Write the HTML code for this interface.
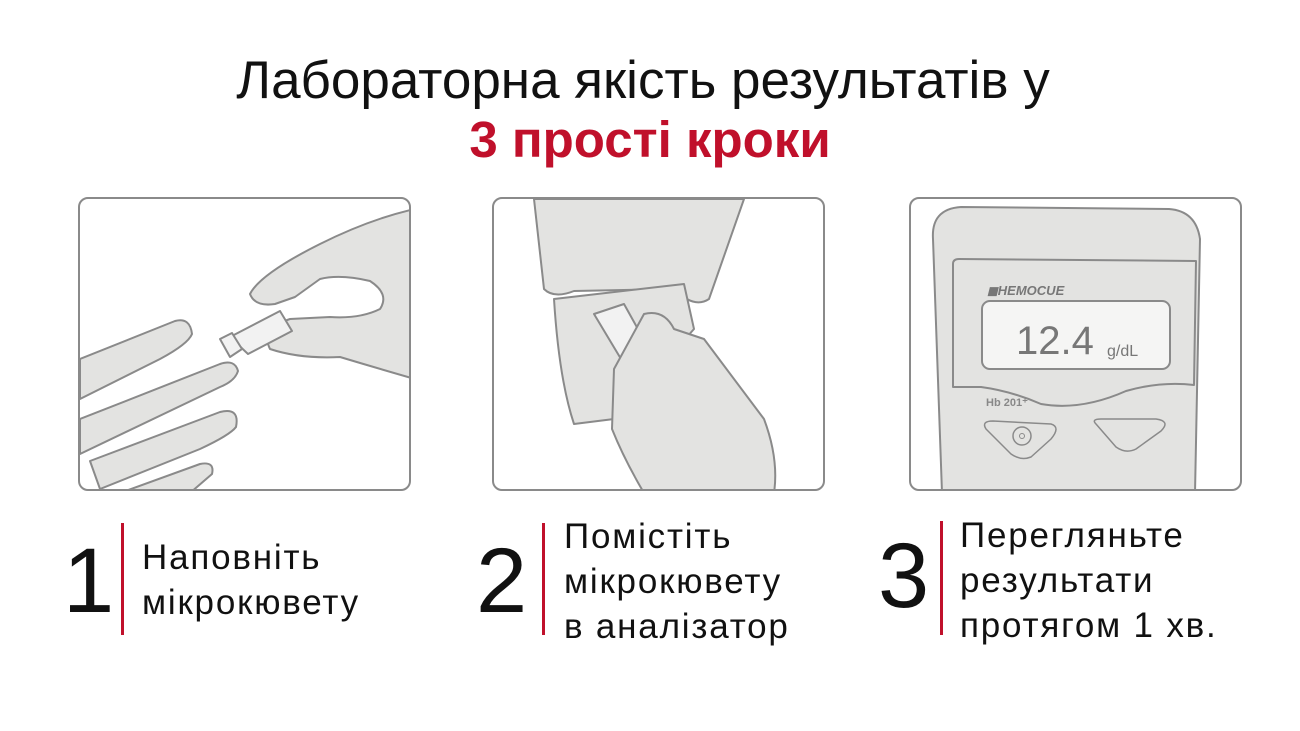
<!DOCTYPE html>
<html><head><meta charset="utf-8"><style>
body{margin:0;width:1300px;height:731px;background:#fff;font-family:"Liberation Sans",sans-serif;position:relative;overflow:hidden}
.t{position:absolute;white-space:nowrap}
.panel{position:absolute;top:197px;width:333px;height:294px;border:2px solid #8a8a8a;border-radius:10px;box-sizing:border-box;overflow:hidden;background:#fff}
.num{position:absolute;font-size:92px;color:#111;line-height:1}
.bar{position:absolute;width:3px;background:#c0102b}
.st{position:absolute;font-size:35px;color:#111;line-height:45px;letter-spacing:1.8px}
</style></head><body>
<div class="t" style="left:0;width:1286px;text-align:center;top:50px;font-size:53px;color:#111">Лабораторна якість результатів у</div>
<div class="t" style="left:0;width:1300px;text-align:center;top:110px;font-size:51px;font-weight:bold;color:#c0102b">3 прості кроки</div>

<div class="panel" style="left:78px">
<svg width="333" height="294" viewBox="0 0 333 294">
<g fill="#e3e3e1" stroke="#8a8a8a" stroke-width="2" stroke-linejoin="round">
<path d="M0 160 L95 122 Q110 118 112 135 Q108 145 80 160 L0 200 Z"/>
<path d="M0 220 L140 165 Q155 160 158 172 Q155 182 140 188 L0 255 Z"/>
<path d="M10 262 L140 213 Q160 208 156 228 Q150 236 120 250 L20 290 Z"/>
<path d="M40 294 L120 265 Q135 262 132 275 L110 294 Z"/>
<path d="M335 10 Q290 20 240 45 Q180 75 170 95 Q175 108 195 105 L215 98 L240 80 Q260 75 290 82 Q310 95 300 110 Q280 120 250 118 L210 120 Q180 130 190 150 Q220 160 260 158 Q300 170 335 180 Z"/>
<path d="M150 138 L200 112 L212 132 L168 155 Z" fill="#f2f2f2"/>
<path d="M140 140 L152 134 L162 150 L150 158 Z" fill="#f2f2f2"/>
</g></svg></div>

<div class="panel" style="left:492px">
<svg width="333" height="294" viewBox="0 0 333 294">
<g fill="#e3e3e1" stroke="#8a8a8a" stroke-width="2" stroke-linejoin="round">
<path d="M40 0 L250 0 L215 100 Q200 110 180 90 L80 92 Q60 100 50 90 Z"/>
<path d="M60 100 L190 85 L200 130 L120 220 L80 225 Q65 180 60 100 Z"/>
<path d="M100 115 L130 105 L155 150 L130 165 Z" fill="#f2f2f2"/>
<path d="M120 170 L150 115 Q170 110 180 130 L210 140 Q240 180 270 220 Q285 260 280 294 L150 294 Q130 260 118 230 Z"/>
</g></svg></div>

<div class="panel" style="left:909px">
<svg width="333" height="294" viewBox="0 0 333 294">
<g stroke="#8a8a8a" stroke-width="2" stroke-linejoin="round">
<path d="M31 294 L22 40 Q20 10 50 8 L258 10 Q285 12 289 40 L284 294 Z" fill="#e3e3e1"/>
<path d="M42 65 Q42 60 48 60 L285 62 L283 186 Q250 182 215 192 Q170 212 130 205 Q100 192 70 188 L42 188 Z" fill="#e3e3e1"/>
<rect x="71" y="102" width="188" height="68" rx="8" fill="#f5f5f4"/>
<path d="M75 230 Q70 222 82 222 L140 225 Q150 228 140 240 L120 258 Q110 262 100 255 Z" fill="#e3e3e1" stroke-width="1.5"/>
<circle cx="111" cy="237" r="9" fill="none" stroke-width="1.5"/><circle cx="111" cy="237" r="2.5" fill="none" stroke-width="1"/>
<path d="M185 225 Q180 220 190 220 L245 220 Q260 222 250 232 L225 250 Q215 255 205 248 Z" fill="#e3e3e1" stroke-width="1.5"/>
</g>
<text x="76" y="96" font-size="13" font-style="italic" font-weight="bold" fill="#777" font-family="Liberation Sans">◼HEMOCUE</text>
<text x="105" y="155" font-size="40" fill="#777" font-family="Liberation Sans">12.4</text>
<text x="196" y="157" font-size="16" fill="#777" font-family="Liberation Sans">g/dL</text>
<text x="75" y="207" font-size="11" font-weight="bold" fill="#888" font-family="Liberation Sans">Hb 201⁺</text>
</svg></div>

<div class="num" style="left:63px;top:535px">1</div>
<div class="bar" style="left:121px;top:523px;height:112px"></div>
<div class="st" style="left:142px;top:535px">Наповніть<br>мікрокювету</div>

<div class="num" style="left:476px;top:535px">2</div>
<div class="bar" style="left:542px;top:523px;height:112px"></div>
<div class="st" style="left:564px;top:514px">Помістіть<br>мікрокювету<br>в аналізатор</div>

<div class="num" style="left:878px;top:530px">3</div>
<div class="bar" style="left:940px;top:521px;height:114px"></div>
<div class="st" style="left:960px;top:513px">Перегляньте<br>результати<br>протягом 1 хв.</div>
</body></html>
